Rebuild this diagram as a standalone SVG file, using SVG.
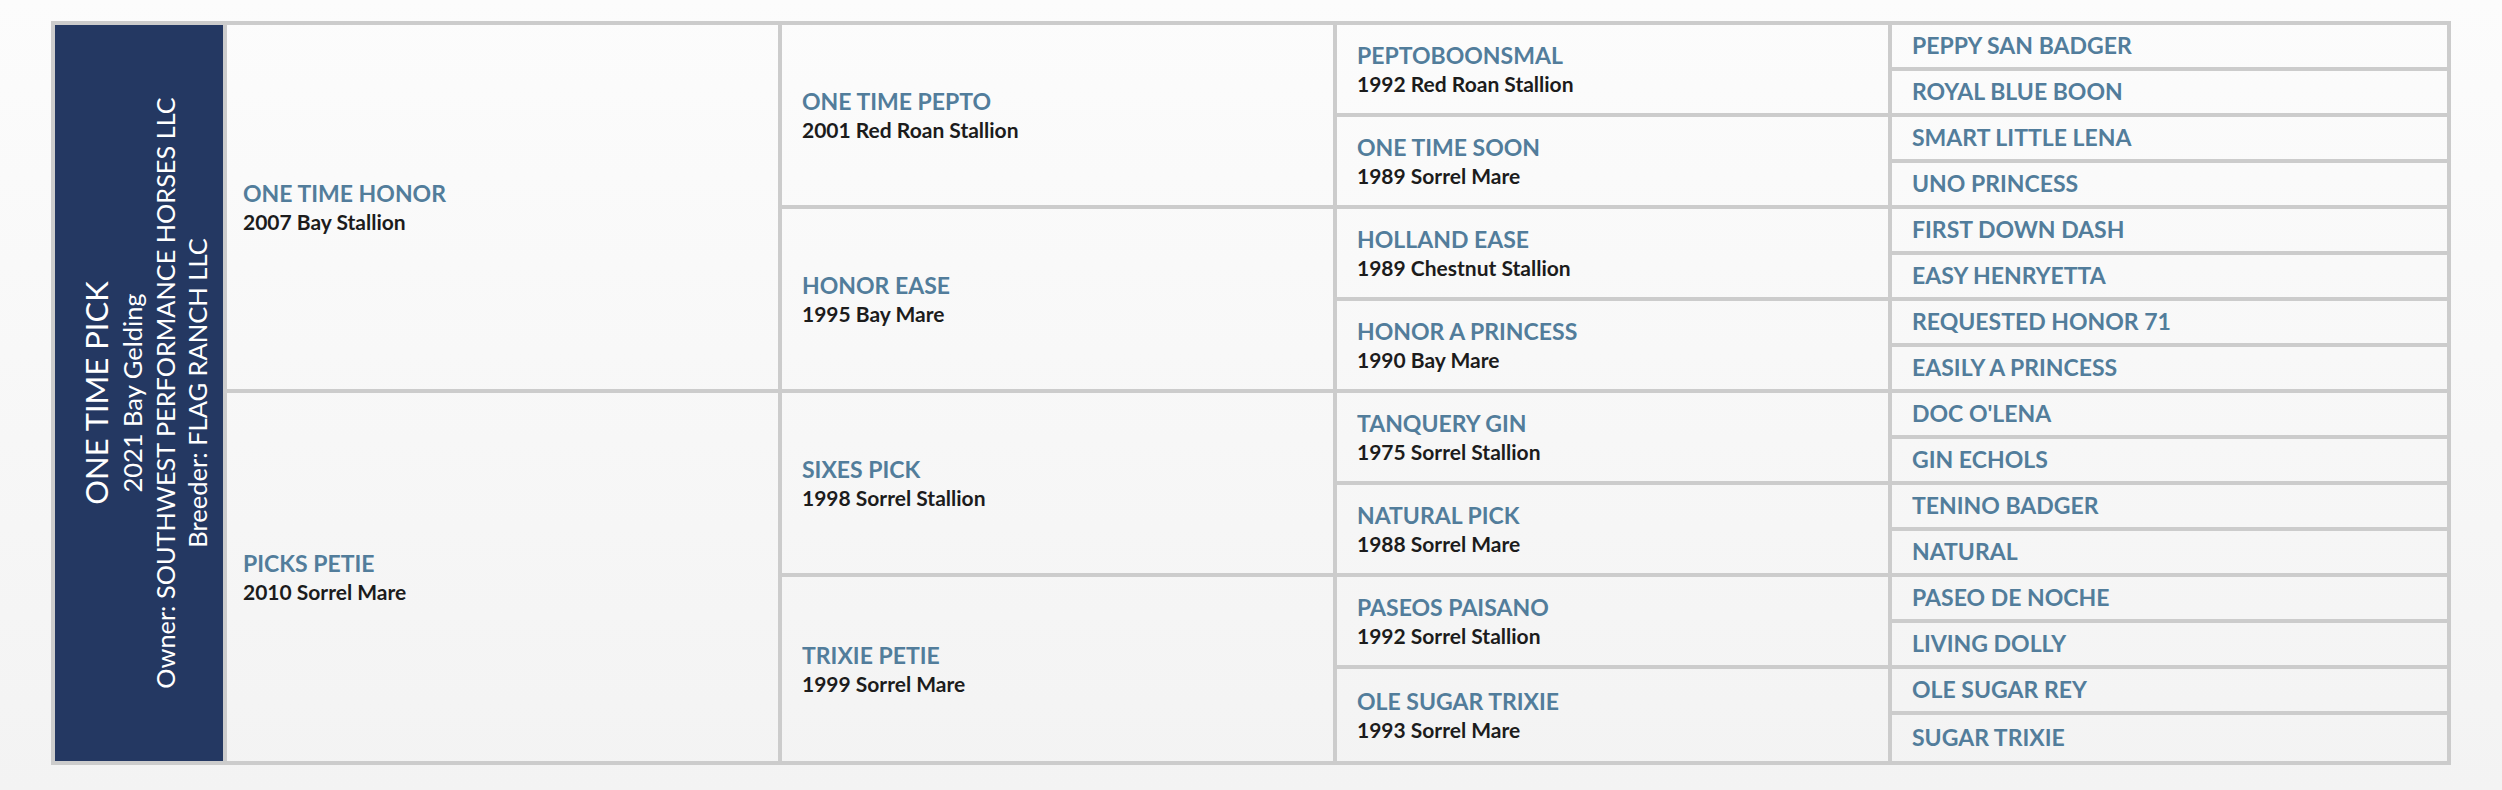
<svg xmlns="http://www.w3.org/2000/svg" width="2502" height="790" viewBox="0 0 2502 790">
<defs>
<linearGradient id="bg" x1="0" y1="0" x2="0" y2="1">
<stop offset="0" stop-color="#fcfcfc"/>
<stop offset="1" stop-color="#f3f3f3"/>
</linearGradient>
</defs>
<style>
.cell{fill:none;stroke:#cccccc;stroke-width:4}
.nm{font-family:Lato,"Noto Sans",sans-serif;font-weight:700;font-size:23px;fill:#527d9b}
.sb{font-family:Lato,"Noto Sans",sans-serif;font-weight:700;font-size:21px;fill:#1c1c1c}
.w{font-family:Lato,"Noto Sans",sans-serif;font-weight:400;fill:#ffffff;text-anchor:middle}
</style>
<rect x="0" y="0" width="2502" height="790" fill="url(#bg)"/>
<g id="subject">
<rect x="53" y="23" width="172" height="740" fill="#243862" stroke="#cccccc" stroke-width="4"/>
<g transform="translate(108,393) rotate(-90)"><text class="w" x="0" y="0" font-size="31">ONE TIME PICK</text></g>
<g transform="translate(142,393) rotate(-90)"><text class="w" x="0" y="0" font-size="25.5">2021 Bay Gelding</text></g>
<g transform="translate(175,393) rotate(-90)"><text class="w" x="0" y="0" font-size="25.3">Owner: SOUTHWEST PERFORMANCE HORSES LLC</text></g>
<g transform="translate(207,393) rotate(-90)"><text class="w" x="0" y="0" font-size="25.5">Breeder: FLAG RANCH LLC</text></g>
</g>
<g id="grid">
<rect class="cell" x="53" y="23" width="2396" height="740"/>
<rect class="cell" x="225" y="23" width="555" height="368"/>
<rect class="cell" x="225" y="391" width="555" height="372"/>
<rect class="cell" x="780" y="23" width="555" height="184"/>
<rect class="cell" x="780" y="207" width="555" height="184"/>
<rect class="cell" x="780" y="391" width="555" height="184"/>
<rect class="cell" x="780" y="575" width="555" height="188"/>
<path class="cell" d="M1335 23V763M1890 23V763M1335 115H1890M1335 207H1890M1335 299H1890M1335 391H1890M1335 483H1890M1335 575H1890M1335 667H1890M1890 69H2449M1890 115H2449M1890 161H2449M1890 207H2449M1890 253H2449M1890 299H2449M1890 345H2449M1890 391H2449M1890 437H2449M1890 483H2449M1890 529H2449M1890 575H2449M1890 621H2449M1890 667H2449M1890 713H2449"/>
</g>
<g id="sire"><text class="nm" x="243" y="202">ONE TIME HONOR</text><text class="sb" x="243" y="230">2007 Bay Stallion</text></g>
<g id="dam"><text class="nm" x="243" y="572">PICKS PETIE</text><text class="sb" x="243" y="600">2010 Sorrel Mare</text></g>
<g id="s-s"><text class="nm" x="802" y="110">ONE TIME PEPTO</text><text class="sb" x="802" y="138">2001 Red Roan Stallion</text></g>
<g id="s-d"><text class="nm" x="802" y="294">HONOR EASE</text><text class="sb" x="802" y="322">1995 Bay Mare</text></g>
<g id="d-s"><text class="nm" x="802" y="478">SIXES PICK</text><text class="sb" x="802" y="506">1998 Sorrel Stallion</text></g>
<g id="d-d"><text class="nm" x="802" y="664">TRIXIE PETIE</text><text class="sb" x="802" y="692">1999 Sorrel Mare</text></g>
<g id="g1"><text class="nm" x="1357" y="64">PEPTOBOONSMAL</text><text class="sb" x="1357" y="92">1992 Red Roan Stallion</text></g>
<g id="g2"><text class="nm" x="1357" y="156">ONE TIME SOON</text><text class="sb" x="1357" y="184">1989 Sorrel Mare</text></g>
<g id="g3"><text class="nm" x="1357" y="248">HOLLAND EASE</text><text class="sb" x="1357" y="276">1989 Chestnut Stallion</text></g>
<g id="g4"><text class="nm" x="1357" y="340">HONOR A PRINCESS</text><text class="sb" x="1357" y="368">1990 Bay Mare</text></g>
<g id="g5"><text class="nm" x="1357" y="432">TANQUERY GIN</text><text class="sb" x="1357" y="460">1975 Sorrel Stallion</text></g>
<g id="g6"><text class="nm" x="1357" y="524">NATURAL PICK</text><text class="sb" x="1357" y="552">1988 Sorrel Mare</text></g>
<g id="g7"><text class="nm" x="1357" y="616">PASEOS PAISANO</text><text class="sb" x="1357" y="644">1992 Sorrel Stallion</text></g>
<g id="g8"><text class="nm" x="1357" y="710">OLE SUGAR TRIXIE</text><text class="sb" x="1357" y="738">1993 Sorrel Mare</text></g>
<g id="gg1"><text class="nm" x="1912" y="54">PEPPY SAN BADGER</text></g>
<g id="gg2"><text class="nm" x="1912" y="100">ROYAL BLUE BOON</text></g>
<g id="gg3"><text class="nm" x="1912" y="146">SMART LITTLE LENA</text></g>
<g id="gg4"><text class="nm" x="1912" y="192">UNO PRINCESS</text></g>
<g id="gg5"><text class="nm" x="1912" y="238">FIRST DOWN DASH</text></g>
<g id="gg6"><text class="nm" x="1912" y="284">EASY HENRYETTA</text></g>
<g id="gg7"><text class="nm" x="1912" y="330">REQUESTED HONOR 71</text></g>
<g id="gg8"><text class="nm" x="1912" y="376">EASILY A PRINCESS</text></g>
<g id="gg9"><text class="nm" x="1912" y="422">DOC O'LENA</text></g>
<g id="gg10"><text class="nm" x="1912" y="468">GIN ECHOLS</text></g>
<g id="gg11"><text class="nm" x="1912" y="514">TENINO BADGER</text></g>
<g id="gg12"><text class="nm" x="1912" y="560">NATURAL</text></g>
<g id="gg13"><text class="nm" x="1912" y="606">PASEO DE NOCHE</text></g>
<g id="gg14"><text class="nm" x="1912" y="652">LIVING DOLLY</text></g>
<g id="gg15"><text class="nm" x="1912" y="698">OLE SUGAR REY</text></g>
<g id="gg16"><text class="nm" x="1912" y="746">SUGAR TRIXIE</text></g>
</svg>
